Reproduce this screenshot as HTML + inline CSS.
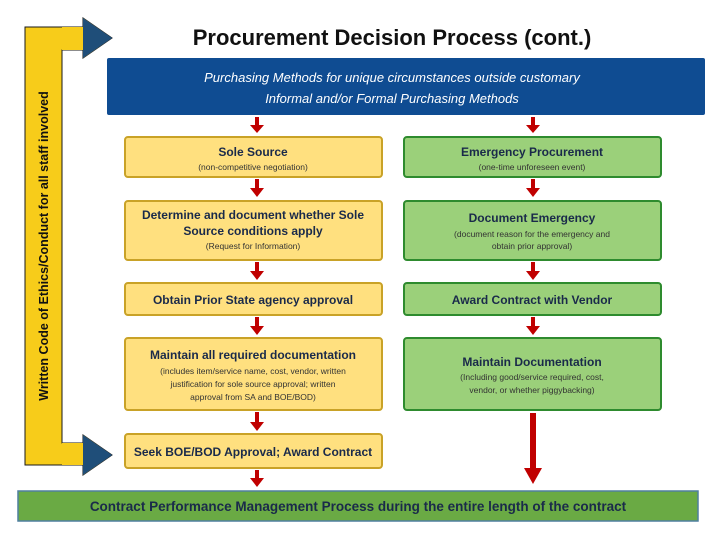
<!DOCTYPE html>
<html><head><meta charset="utf-8"><style>
body{margin:0;background:#fff;}
svg text{font-family:"Liberation Sans",sans-serif;}
</style></head><body>
<svg width="720" height="540" viewBox="0 0 720 540" xmlns="http://www.w3.org/2000/svg">
<defs>
<linearGradient id="gt" x1="0" x2="1" y1="0" y2="0">
<stop offset="0" stop-color="#f7cc1a"/><stop offset="0.55" stop-color="#f7cc1a"/><stop offset="1" stop-color="#1f4e79"/>
</linearGradient>
<linearGradient id="gb" x1="0" x2="1" y1="0" y2="0">
<stop offset="0" stop-color="#f7cc1a"/><stop offset="0.55" stop-color="#f7cc1a"/><stop offset="1" stop-color="#1f4e79"/>
</linearGradient>
<marker id="ah" viewBox="0 0 10 10" refX="5" refY="5" markerWidth="3" markerHeight="3" orient="auto"><path d="M0,0L10,5L0,10z" fill="#c00000"/></marker>
</defs>
<!-- bracket -->
<path d="M25,27 H83 V18 L112,38 L83,58 V50 H62 V443 H83 V435 L112,455 L83,475 V465 H25 Z" fill="#f7cc1a" stroke="#1a1a1a" stroke-width="1"/>
<path d="M62,27 H83 V18 L112,38 L83,58 V50 H62 Z" fill="url(#gt)"/>
<path d="M62,443 H83 V435 L112,455 L83,475 V465 H62 Z" fill="url(#gb)"/>
<path d="M83,18 L112,38 L83,58 Z M83,435 L112,455 L83,475 Z" fill="#1f4e79"/>
<text transform="translate(48,246) rotate(-90)" text-anchor="middle" font-size="12.5" font-weight="bold" fill="#111">Written Code of Ethics/Conduct for all staff involved</text>
<!-- title -->
<text x="392" y="45" text-anchor="middle" font-size="22" font-weight="bold" fill="#111">Procurement Decision Process (cont.)</text>
<!-- header -->
<rect x="107" y="58" width="598" height="57" rx="2" fill="#0f4c92"/>
<text x="392" y="82" text-anchor="middle" font-size="13" font-style="italic" fill="#fff">Purchasing Methods for unique circumstances outside customary</text>
<text x="392" y="103" text-anchor="middle" font-size="13" font-style="italic" fill="#fff">Informal and/or Formal Purchasing Methods</text>
<!-- left column -->
<g fill="#ffe07f" stroke="#c9a227" stroke-width="2">
<rect x="125" y="137" width="257" height="40" rx="3"/>
<rect x="125" y="201" width="257" height="59" rx="3"/>
<rect x="125" y="283" width="257" height="32" rx="3"/>
<rect x="125" y="338" width="257" height="72" rx="3"/>
<rect x="125" y="434" width="257" height="34" rx="3"/>
</g>
<g fill="#9bd07a" stroke="#2e8b2e" stroke-width="2">
<rect x="404" y="137" width="257" height="40" rx="3"/>
<rect x="404" y="201" width="257" height="59" rx="3"/>
<rect x="404" y="283" width="257" height="32" rx="3"/>
<rect x="404" y="338" width="257" height="72" rx="3"/>
</g>
<g text-anchor="middle" fill="#1a2a4a">
<text x="253" y="156" font-size="12" font-weight="bold">Sole Source</text>
<text x="253" y="170" font-size="8.5" fill="#333">(non-competitive negotiation)</text>
<text x="253" y="219" font-size="12" font-weight="bold">Determine and document whether Sole</text>
<text x="253" y="235" font-size="12" font-weight="bold">Source conditions apply</text>
<text x="253" y="249" font-size="8.5" fill="#333">(Request for Information)</text>
<text x="253" y="304" font-size="12" font-weight="bold">Obtain Prior State agency approval</text>
<text x="253" y="359" font-size="12" font-weight="bold">Maintain all required documentation</text>
<text x="253" y="374" font-size="8.5" fill="#333">(includes item/service name, cost, vendor, written</text>
<text x="253" y="387" font-size="8.5" fill="#333">justification for sole source approval; written</text>
<text x="253" y="400" font-size="8.5" fill="#333">approval from SA and BOE/BOD)</text>
<text x="253" y="456" font-size="12" font-weight="bold">Seek BOE/BOD Approval; Award Contract</text>
<text x="532" y="156" font-size="12" font-weight="bold">Emergency Procurement</text>
<text x="532" y="170" font-size="8.5" fill="#333">(one-time unforeseen event)</text>
<text x="532" y="222" font-size="12" font-weight="bold">Document Emergency</text>
<text x="532" y="237" font-size="8.5" fill="#333">(document reason for the emergency and</text>
<text x="532" y="249" font-size="8.5" fill="#333">obtain prior approval)</text>
<text x="532" y="304" font-size="12" font-weight="bold">Award Contract with Vendor</text>
<text x="532" y="366" font-size="12" font-weight="bold">Maintain Documentation</text>
<text x="532" y="380" font-size="8.5" fill="#333">(Including good/service required, cost,</text>
<text x="532" y="393" font-size="8.5" fill="#333">vendor, or whether piggybacking)</text>
</g>
<!-- arrows -->
<g fill="#c00000">
<path d="M255,117h4v8h5l-7,8l-7,-8h5z"/>
<path d="M255,179h4v9h5l-7,9l-7,-9h5z"/>
<path d="M255,262h4v9h5l-7,9l-7,-9h5z"/>
<path d="M255,317h4v9h5l-7,9l-7,-9h5z"/>
<path d="M255,412h4v10h5l-7,9l-7,-9h5z"/>
<path d="M255,470h4v8h5l-7,9l-7,-9h5z"/>
<path d="M531,117h4v8h5l-7,8l-7,-8h5z"/>
<path d="M531,179h4v9h5l-7,9l-7,-9h5z"/>
<path d="M531,262h4v9h5l-7,9l-7,-9h5z"/>
<path d="M531,317h4v9h5l-7,9l-7,-9h5z"/>
<path d="M530,413h6v55h6l-9,16l-9,-16h6z"/>
</g>
<!-- bottom bar -->
<rect x="18" y="491" width="680" height="30" fill="#6aaa44" stroke="#4f7f9f" stroke-width="1.5"/>
<text x="358" y="511" text-anchor="middle" font-size="13.5" font-weight="bold" fill="#1a2a4a">Contract Performance Management Process during the entire length of the contract</text>
</svg>
</body></html>
